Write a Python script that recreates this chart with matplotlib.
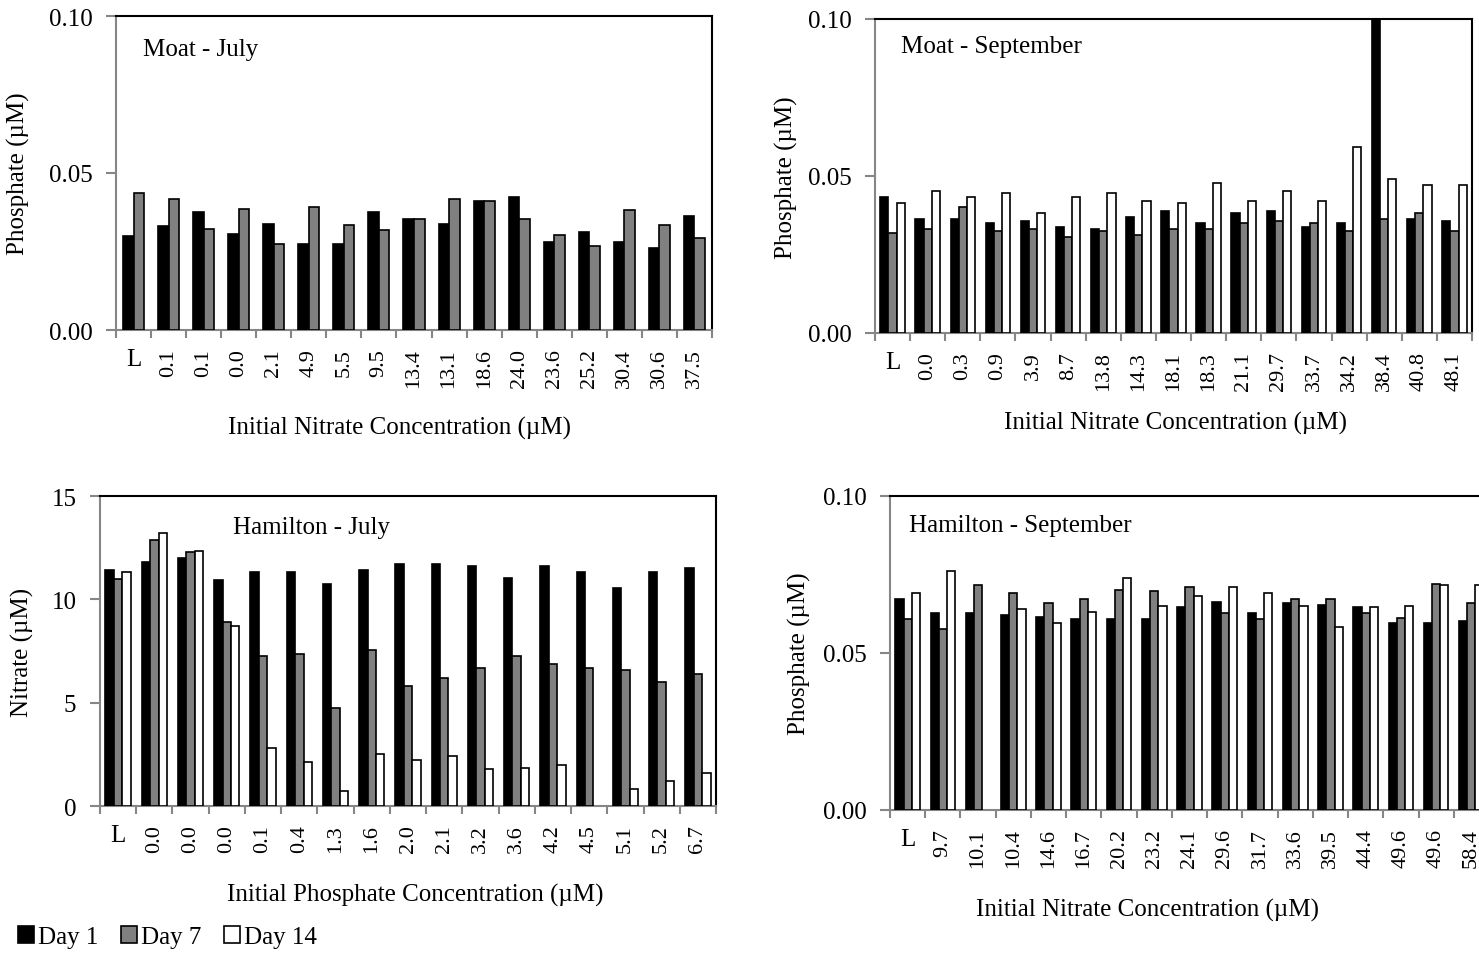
import numpy as np
import matplotlib
matplotlib.use("Agg")
import matplotlib.pyplot as plt
from matplotlib.patches import Patch

plt.rcParams['font.family'] = ['Liberation Serif', 'DejaVu Serif']
plt.rcParams['font.size'] = 18

W, H = 1479, 954

# ─── Data ─────────────────────────────────────────────────────────────────────
moat_jul_labels = ["L", "0.1", "0.1", "0.0", "2.1", "4.9", "5.5", "9.5", "13.4",
                   "13.1", "18.6", "24.0", "23.6", "25.2", "30.4", "30.6", "37.5"]
moat_jul_d1 = [0.0299, 0.0331, 0.0375, 0.0305, 0.0336, 0.0274, 0.0274, 0.0375, 0.0355,
               0.0336, 0.0412, 0.0425, 0.0280, 0.0312, 0.0280, 0.0261, 0.0362]
moat_jul_d7 = [0.0437, 0.0418, 0.0323, 0.0386, 0.0273, 0.0392, 0.0335, 0.0318, 0.0355,
               0.0418, 0.0412, 0.0355, 0.0304, 0.0266, 0.0381, 0.0335, 0.0292]

moat_sep_labels = ["L", "0.0", "0.3", "0.9", "3.9", "8.7", "13.8", "14.3", "18.1",
                   "18.3", "21.1", "29.7", "33.7", "34.2", "38.4", "40.8", "48.1"]
moat_sep_d1 = [0.0433, 0.0362, 0.0362, 0.0350, 0.0356, 0.0337, 0.0330, 0.0369, 0.0388,
               0.0350, 0.0382, 0.0388, 0.0337, 0.0350, 0.1200, 0.0362, 0.0356]
moat_sep_d7 = [0.0317, 0.0330, 0.0400, 0.0324, 0.0330, 0.0305, 0.0324, 0.0311, 0.0330,
               0.0330, 0.0350, 0.0356, 0.0349, 0.0324, 0.0362, 0.0381, 0.0324]
moat_sep_d14 = [0.0413, 0.0451, 0.0432, 0.0446, 0.0381, 0.0432, 0.0446, 0.0419, 0.0413,
                0.0478, 0.0419, 0.0451, 0.0419, 0.0593, 0.0490, 0.0470, 0.0470]

ham_jul_labels = ["L", "0.0", "0.0", "0.0", "0.1", "0.4", "1.3", "1.6", "2.0",
                  "2.1", "3.2", "3.6", "4.2", "4.5", "5.1", "5.2", "6.7"]
ham_jul_d1 = [11.41, 11.80, 12.00, 10.93, 11.32, 11.32, 10.74, 11.41, 11.70,
              11.70, 11.60, 11.03, 11.60, 11.32, 10.55, 11.32, 11.51]
ham_jul_d7 = [11.00, 12.85, 12.27, 8.89, 7.27, 7.36, 4.76, 7.56, 5.82,
              6.21, 6.69, 7.27, 6.88, 6.69, 6.59, 6.01, 6.40]
ham_jul_d14 = [11.30, 13.23, 12.36, 8.71, 2.83, 2.15, 0.71, 2.54, 2.25,
               2.44, 1.77, 1.86, 1.96, np.nan, 0.80, 1.19, 1.58]

ham_sep_labels = ["L", "9.7", "10.1", "10.4", "14.6", "16.7", "20.2", "23.2", "24.1",
                  "29.6", "31.7", "33.6", "39.5", "44.4", "49.6", "49.6", "58.4"]
ham_sep_d1 = [0.0672, 0.0627, 0.0627, 0.0621, 0.0614, 0.0608, 0.0608, 0.0608, 0.0646,
              0.0664, 0.0627, 0.0659, 0.0653, 0.0645, 0.0596, 0.0596, 0.0603]
ham_sep_d7 = [0.0607, 0.0575, 0.0715, 0.0690, 0.0658, 0.0671, 0.0702, 0.0696, 0.0709,
              0.0626, 0.0607, 0.0671, 0.0671, 0.0626, 0.0613, 0.0721, 0.0658]
ham_sep_d14 = [0.0690, 0.0760, np.nan, 0.0639, 0.0594, 0.0632, 0.0740, 0.0651, 0.0683,
               0.0709, 0.0690, 0.0651, 0.0582, 0.0645, 0.0651, 0.0715, 0.0715]

series_names = ["Day 1", "Day 7", "Day 14"]
colors = ["black", "#808080", "white"]


def px_box(left, right, top, bottom):
    return [left / W, 1 - bottom / H, (right - left) / W, (bottom - top) / H]


def draw_panel(ax, labels, series, width, ylim, yticks, yfmt, title, title_xy):
    n = len(labels)
    x = np.arange(n)
    k = len(series)
    for i, vals in enumerate(series):
        off = (i - (k - 1) / 2) * width
        ax.bar(x + off, vals, width=width, color=colors[i], edgecolor="black",
               linewidth=1.2, zorder=3)
    ax.set_xlim(-0.5, n - 0.5)
    ax.set_ylim(*ylim)
    ax.set_yticks(yticks)
    ax.set_yticklabels([yfmt.format(v) for v in yticks], fontsize=18)
    # ticks at group boundaries, labels at centres
    ax.set_xticks(np.arange(n + 1) - 0.5)
    ax.set_xticklabels([])
    ax.set_xticks(x, minor=True)
    ax.set_xticklabels(labels, minor=True, rotation=90, va="top", fontsize=16)
    for t in ax.get_xticklabels(minor=True):
        if t.get_text() == "L":
            t.set_rotation(0)
            t.set_fontsize(18)
    ax.tick_params(axis="x", which="major", direction="out", length=6,
                   color="#868686", width=1.5)
    ax.tick_params(axis="x", which="minor", length=0, pad=13)
    ax.tick_params(axis="y", direction="out", length=7, color="#868686",
                   width=1.5, pad=10)
    for s in ["left", "bottom"]:
        ax.spines[s].set_color("#868686")
        ax.spines[s].set_linewidth(1.5)
    for s in ["top", "right"]:
        ax.spines[s].set_color("black")
        ax.spines[s].set_linewidth(1.5)
    ax.text(title_xy[0], title_xy[1], title, transform=ax.transAxes,
            ha="left", va="center", fontsize=18)


fig = plt.figure(figsize=(W / 100, H / 100), dpi=100)

# ── Moat - July ───────────────────────────────────────────────────────────────
ax1 = fig.add_axes(px_box(116, 712, 17, 331))
draw_panel(ax1, moat_jul_labels, [moat_jul_d1, moat_jul_d7], 0.30,
           (0, 0.10), [0, 0.05, 0.10], "{:.2f}", "Moat - July", (0.045, 0.895))

# ── Moat - September ──────────────────────────────────────────────────────────
ax2 = fig.add_axes(px_box(875, 1472, 20, 334))
draw_panel(ax2, moat_sep_labels, [moat_sep_d1, moat_sep_d7, moat_sep_d14], 0.233,
           (0, 0.10), [0, 0.05, 0.10], "{:.2f}", "Moat - September", (0.044, 0.914))

# ── Hamilton - July ───────────────────────────────────────────────────────────
ax3 = fig.add_axes(px_box(100, 716, 497, 807))
draw_panel(ax3, ham_jul_labels, [ham_jul_d1, ham_jul_d7, ham_jul_d14], 0.233,
           (0, 15), [0, 5, 10, 15], "{:d}", "Hamilton - July", (0.216, 0.90))

# ── Hamilton - September ──────────────────────────────────────────────────────
ax4 = fig.add_axes(px_box(890, 1489, 497, 811))
draw_panel(ax4, ham_sep_labels, [ham_sep_d1, ham_sep_d7, ham_sep_d14], 0.233,
           (0, 0.10), [0, 0.05, 0.10], "{:.2f}", "Hamilton - September", (0.032, 0.908))

# axis titles
def ftext(xp, yp, s, rot=0):
    fig.text(xp / W, 1 - yp / H, s, ha="center", va="center", rotation=rot, fontsize=18)

ftext(400, 428, "Initial Nitrate Concentration (µM)")
ftext(1175, 423, "Initial Nitrate Concentration (µM)")
ftext(415, 895, "Initial Phosphate Concentration (µM)")
ftext(1148, 910, "Initial Nitrate Concentration (µM)")
ftext(18, 174, "Phosphate (µM)", 90)
ftext(786, 178, "Phosphate (µM)", 90)
ftext(22, 652, "Nitrate (µM)", 90)
ftext(799, 654, "Phosphate (µM)", 90)

handles = [Patch(facecolor=c, edgecolor="black", linewidth=1.2) for c in colors]
fig.legend(handles, series_names, loc="center left", bbox_to_anchor=(18 / W, 1 - 938 / H),
           ncol=3, frameon=False, handlelength=0.65, handleheight=0.65,
           handletextpad=0.15, columnspacing=0.9, fontsize=18, borderpad=0,
           borderaxespad=0)

fig.savefig("out.png", dpi=100)
